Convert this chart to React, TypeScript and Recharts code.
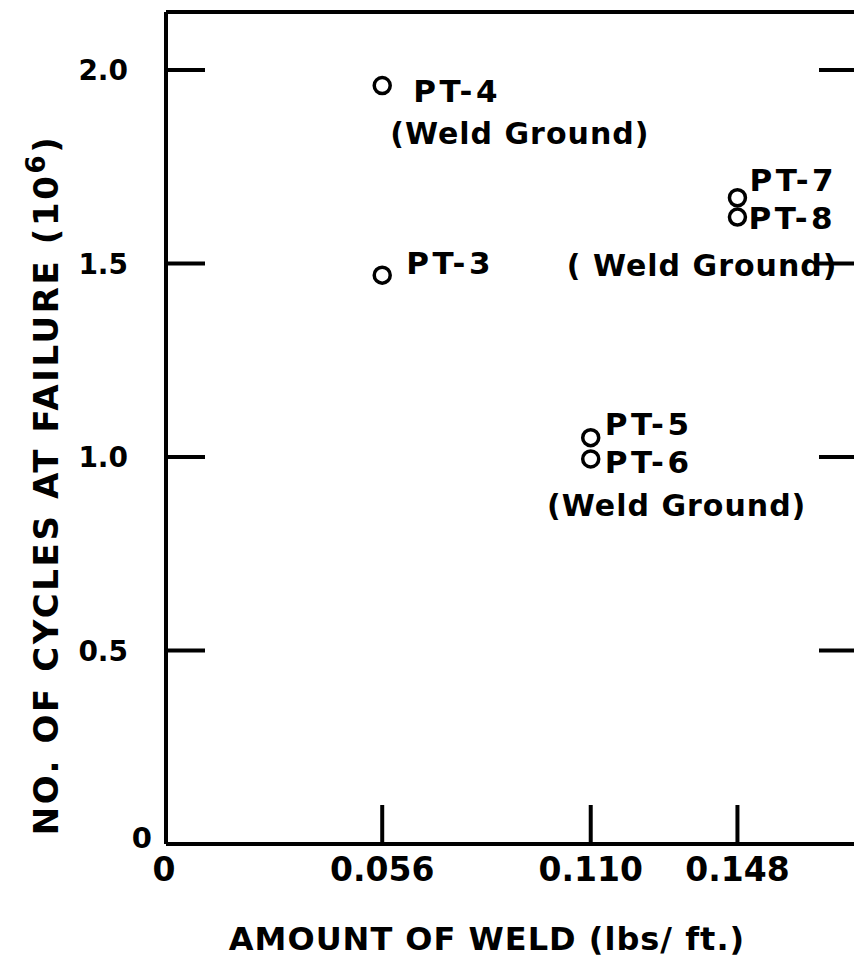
import { ScatterChart, Scatter, XAxis, YAxis, Label } from "recharts";

// specimens
const specimens = ["PT-3", "PT-4", "PT-5", "PT-6", "PT-7", "PT-8"];
const weldAmount = [0.056, 0.056, 0.11, 0.11, 0.148, 0.148];
const cyclesAtFailure = [1.47, 1.96, 1.05, 0.995, 1.67, 1.62];
const notes = ["", "(Weld Ground)", "", "(Weld Ground)", "", "( Weld Ground)"];

const xTicks = [0, 0.056, 0.11, 0.148];
const xTickLabels = ["0", "0.056", "0.110", "0.148"];
const yTicks = [0, 0.5, 1, 1.5, 2];
const yTickLabels = ["0", "0.5", "1.0", "1.5", "2.0"];

const FONT = "'DejaVu Sans', sans-serif";
const INK = "#000";
const TICK_LEN = 39;

// where each label sits relative to its marker
const LABEL_LAYOUT: Record<string, { dx: number; dy: number; note?: { dx: number; dy: number; anchor: string } }> = {
  "PT-3": { dx: 24, dy: -1 },
  "PT-4": { dx: 31, dy: 16, note: { dx: 8, dy: 58, anchor: "start" } },
  "PT-5": { dx: 14, dy: -3 },
  "PT-6": { dx: 14, dy: 14, note: { dx: 86, dy: 57, anchor: "middle" } },
  "PT-7": { dx: 12, dy: -7 },
  "PT-8": { dx: 11, dy: 12, note: { dx: 100, dy: 59, anchor: "end" } },
};

const data = specimens.map((name, i) => ({
  name,
  x: weldAmount[i],
  y: cyclesAtFailure[i],
  note: notes[i],
}));

function Marker(props: any) {
  const { cx, cy, payload } = props;
  const lay = LABEL_LAYOUT[payload.name];
  return (
    <g>
      <circle cx={cx} cy={cy} r={8} fill="none" stroke={INK} strokeWidth={3.5} />
      <text
        x={cx + lay.dx}
        y={cy + lay.dy}
        fontFamily={FONT}
        fontWeight="bold"
        fontSize={31}
        letterSpacing={3.5}
        fill={INK}
      >
        {payload.name}
      </text>
      {payload.note && lay.note ? (
        <text
          x={cx + lay.note.dx}
          y={cy + lay.note.dy}
          textAnchor={lay.note.anchor as any}
          fontFamily={FONT}
          fontWeight="bold"
          fontSize={30}
          letterSpacing={1}
          fill={INK}
        >
          {payload.note}
        </text>
      ) : null}
    </g>
  );
}

function BottomTick(props: any) {
  const { x, y, payload } = props;
  const idx = xTicks.indexOf(payload.value);
  return (
    <g>
      {payload.value !== 0 && <line x1={x} y1={y} x2={x} y2={y - TICK_LEN} stroke={INK} strokeWidth={4} />}
      <text
        x={x + (payload.value === 0 ? -2 : 0)}
        y={y + 37}
        textAnchor="middle"
        fontFamily={FONT}
        fontWeight="bold"
        fontSize={33}
        fill={INK}
      >
        {xTickLabels[idx]}
      </text>
    </g>
  );
}

function TopTick(props: any) {
  const { x, y } = props;
  return <line x1={x} y1={y} x2={x} y2={y + TICK_LEN} stroke={INK} strokeWidth={4} />;
}

function LeftTick(props: any) {
  const { x, y, payload } = props;
  const idx = yTicks.indexOf(payload.value);
  if (payload.value === 0) {
    return (
      <text x={x - 14} y={y + 4} textAnchor="end" fontFamily={FONT} fontWeight="bold" fontSize={29} fill={INK}>
        {yTickLabels[idx]}
      </text>
    );
  }
  return (
    <g>
      <line x1={x} y1={y} x2={x + TICK_LEN} y2={y} stroke={INK} strokeWidth={4} />
      <text x={x - 38} y={y + 10} textAnchor="end" fontFamily={FONT} fontWeight="bold" fontSize={28} fill={INK}>
        {yTickLabels[idx]}
      </text>
    </g>
  );
}

function RightTick(props: any) {
  const { x, y, payload } = props;
  if (payload.value === 0) return <g />;
  return <line x1={x} y1={y} x2={x - TICK_LEN - 3} y2={y} stroke={INK} strokeWidth={4} />;
}

export default function App() {
  const axisLine = { stroke: INK, strokeWidth: 4 };
  return (
    <div style={{ position: "absolute", left: 0, top: 0, width: 854, height: 961, overflow: "hidden", background: "#fff" }}>
      <ScatterChart width={880} height={961} margin={{ top: 2, right: 9, bottom: 87, left: 106 }}>
        <XAxis
          dataKey="x"
          type="number"
          domain={[0, 0.18]}
          ticks={xTicks}
          allowDataOverflow
          height={30}
          axisLine={axisLine}
          tickLine={false}
          tickSize={0}
          tickMargin={0}
          tick={<BottomTick />}
          interval={0}
        >
          <Label
            content={() => (
              <text x={487} y={950} textAnchor="middle" fontFamily={FONT} fontWeight="bold" fontSize={32} letterSpacing={1} fill={INK}>
                AMOUNT OF WELD (lbs/ ft.)
              </text>
            )}
          />
        </XAxis>
        <XAxis
          xAxisId="top"
          orientation="top"
          type="number"
          domain={[0, 0.18]}
          ticks={[0.056, 0.11, 0.148]}
          allowDataOverflow
          height={10}
          axisLine={axisLine}
          tickLine={false}
          tickSize={0}
          tickMargin={0}
          tick={<TopTick />}
          interval={0}
        />
        <YAxis
          dataKey="y"
          type="number"
          domain={[0, 2.15]}
          ticks={yTicks}
          allowDataOverflow
          width={60}
          axisLine={axisLine}
          tickLine={false}
          tickSize={0}
          tickMargin={0}
          tick={<LeftTick />}
          interval={0}
        >
          <Label
            content={() => (
              <text
                x={58}
                y={485}
                transform="rotate(-90, 58, 485)"
                textAnchor="middle"
                fontFamily={FONT}
                fontWeight="bold"
                fontSize={34}
                letterSpacing={2.6}
                fill={INK}
              >
                NO. OF CYCLES AT FAILURE (10
                <tspan dy={-13} fontSize={26}>6</tspan>
                <tspan dy={13}>)</tspan>
              </text>
            )}
          />
        </YAxis>
        <YAxis
          yAxisId="right"
          orientation="right"
          type="number"
          domain={[0, 2.15]}
          ticks={yTicks}
          allowDataOverflow
          width={10}
          axisLine={axisLine}
          tickLine={false}
          tickSize={0}
          tickMargin={0}
          tick={<RightTick />}
          interval={0}
        />
        <Scatter data={data} shape={<Marker />} isAnimationActive={false} />
      </ScatterChart>
    </div>
  );
}
